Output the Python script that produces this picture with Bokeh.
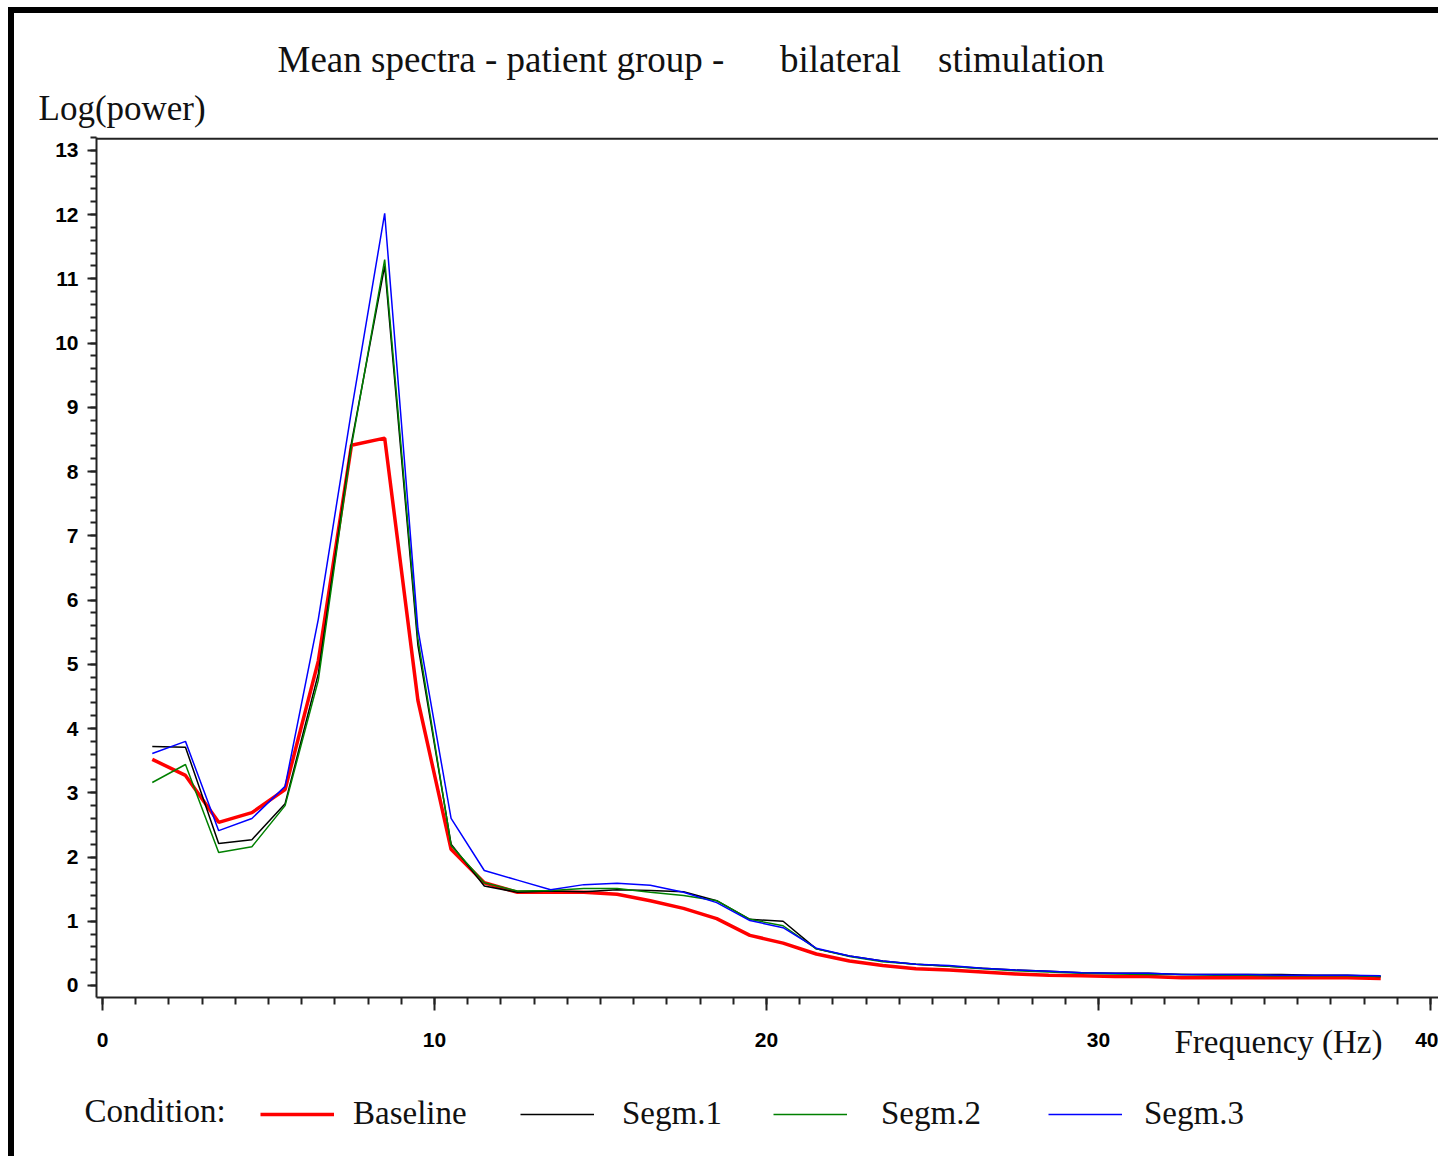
from bokeh.plotting import figure
from bokeh.models import (Range1d, SingleIntervalTicker, LinearAxis, Title, Legend,
                          LegendItem, Label, BoxAnnotation, Div, Spacer)
from bokeh.layouts import column, row
from bokeh.embed import file_html
from bokeh.resources import INLINE

# ---------------- data ----------------
freq = [1.5, 2.5, 3.5, 4.5, 5.5, 6.5, 7.5, 8.5, 9.5, 10.5, 11.5, 12.5, 13.5, 14.5, 15.5,
        16.5, 17.5, 18.5, 19.5, 20.5, 21.5, 22.5, 23.5, 24.5, 25.5, 26.5, 27.5, 28.5,
        29.5, 30.5, 31.5, 32.5, 33.5, 34.5, 35.5, 36.5, 37.5, 38.5]

baseline = [3.52, 3.27, 2.54, 2.69, 3.05, 5.05, 8.41, 8.52, 4.44, 2.12, 1.60, 1.45, 1.45,
            1.45, 1.42, 1.32, 1.20, 1.04, 0.78, 0.66, 0.49, 0.38, 0.31, 0.26, 0.24, 0.21,
            0.18, 0.16, 0.15, 0.14, 0.14, 0.12, 0.12, 0.12, 0.12, 0.12, 0.12, 0.11]

segm1 = [3.72, 3.71, 2.21, 2.27, 2.83, 4.85, 8.45, 11.20, 5.30, 2.20, 1.55, 1.45, 1.47,
         1.46, 1.49, 1.48, 1.46, 1.32, 1.03, 1.00, 0.57, 0.46, 0.38, 0.33, 0.30, 0.27,
         0.24, 0.22, 0.20, 0.19, 0.19, 0.17, 0.17, 0.17, 0.17, 0.16, 0.16, 0.14]

segm2 = [3.16, 3.44, 2.07, 2.16, 2.80, 4.75, 8.40, 11.30, 5.40, 2.18, 1.60, 1.47, 1.48,
         1.51, 1.51, 1.45, 1.40, 1.32, 1.03, 0.93, 0.57, 0.45, 0.37, 0.33, 0.30, 0.26,
         0.23, 0.21, 0.19, 0.18, 0.17, 0.17, 0.16, 0.16, 0.15, 0.15, 0.15, 0.14]

segm3 = [3.61, 3.80, 2.41, 2.60, 3.10, 5.70, 8.95, 12.02, 5.55, 2.60, 1.79, 1.64, 1.49,
         1.57, 1.59, 1.56, 1.45, 1.29, 1.01, 0.90, 0.58, 0.46, 0.38, 0.33, 0.31, 0.27,
         0.24, 0.22, 0.20, 0.19, 0.19, 0.17, 0.17, 0.17, 0.16, 0.16, 0.16, 0.15]

series_names = ["Baseline", "Segm.1", "Segm.2", "Segm.3"]
series_vals = [baseline, segm1, segm2, segm3]
series_colors = ["#ff0000", "#000000", "#008000", "#0000ff"]
series_widths = [3.5, 1.5, 1.5, 1.5]

NB = "\u00a0"
title_text = "Mean spectra - patient group -" + NB * 6 + "bilateral" + NB * 4 + "stimulation"
y_label = "Log(power)"
x_label = "Frequency (Hz)"
legend_title = "Condition:"

# ---------------- layout ----------------
OX, OY = 14, 13             # page offset after the thick border
LEG_TOP = 1075              # page y where legend strip starts
W = 1438 - OX
H = LEG_TOP - OY
HL = 1156 - LEG_TOP
FL, FT, FB = 96 - OX, 137 - OY, 997 - OY
XMIN, XMAX = -0.18, 40.24
YMIN, YMAX = -0.187, 13.2
SERIF = "Liberation Serif"
TXT = "#111111"

p = figure(width=W, height=H, x_range=Range1d(XMIN, XMAX), y_range=Range1d(YMIN, YMAX),
           output_backend="svg", toolbar_location=None,
           x_axis_type=None, y_axis_type=None,
           min_border_left=FL, min_border_top=FT, min_border_bottom=H - FB, min_border_right=0)
p.outline_line_color = None
p.background_fill_color = "white"
p.border_fill_color = "white"

xaxis = LinearAxis(ticker=SingleIntervalTicker(interval=10, num_minor_ticks=10))
yaxis = LinearAxis(ticker=SingleIntervalTicker(interval=1, num_minor_ticks=5))
for ax, tout, mout, stand in ((xaxis, 13, 7, 22), (yaxis, 9, 6, 9)):
    ax.axis_line_width = 2
    ax.axis_line_color = "#222222"
    ax.major_tick_line_width = 2
    ax.minor_tick_line_width = 2
    ax.major_tick_line_color = "#222222"
    ax.minor_tick_line_color = "#222222"
    ax.major_tick_in = 0
    ax.minor_tick_in = 0
    ax.major_tick_out = tout
    ax.minor_tick_out = mout
    ax.major_label_standoff = stand
    ax.major_label_text_font = "Liberation Sans"
    ax.major_label_text_font_style = "bold"
    ax.major_label_text_font_size = "21px"
    ax.major_label_text_color = "black"
p.add_layout(xaxis, "below")
p.add_layout(yaxis, "left")

for name, vals, col, lw in zip(series_names, series_vals, series_colors, series_widths):
    p.line(freq, vals, line_color=col, line_width=lw)

# top edge of the plot area
px_y = (YMAX - YMIN) / (FB - FT)
p.add_layout(BoxAnnotation(top=YMAX, bottom=YMAX - 2.2 * px_y, fill_color="#222222",
                           fill_alpha=1, line_color=None))

# titles above (first added is nearest the frame)
p.add_layout(Title(text=y_label, align="left", offset=38 - 96, standoff=19,
                   text_font=SERIF, text_font_size="35px", text_font_style="normal",
                   text_color=TXT), "above")
p.add_layout(Title(text=title_text, align="left", offset=277 - 96, standoff=-5,
                   text_font=SERIF, text_font_size="37px", text_font_style="normal",
                   text_color=TXT), "above")
# x label under the axis, at the right
p.add_layout(Title(text=x_label, align="right", vertical_align="top", offset=56, standoff=-51,
                   text_font=SERIF, text_font_size="33px", text_font_style="normal",
                   text_color=TXT), "below")

# ---------------- legend strip ----------------
lg = figure(width=W, height=HL, x_range=Range1d(0, 1), y_range=Range1d(0, 1),
            output_backend="svg", toolbar_location=None, x_axis_type=None, y_axis_type=None,
            min_border=0)
lg.outline_line_color = None
for fig in (p, lg):
    try:
        fig.frame_align = False
    except Exception:
        pass
lg.add_layout(Label(x=84 - OX, y=46, x_units="screen", y_units="screen",
                    text=legend_title, text_font=SERIF, text_font_size="33px",
                    text_color=TXT, text_baseline="alphabetic"))
glyph_x = [260, 520, 773, 1048]
label_gap = [19, 28, 34, 22]
for name, col, lw, gx, gap in zip(series_names, series_colors, series_widths, glyph_x, label_gap):
    r = lg.line(x=[-5, -4], y=[-5, -5], line_color=col, line_width=lw)
    lg.add_layout(Legend(items=[LegendItem(label=name, renderers=[r])],
                         orientation="horizontal", location=(gx - OX, 24),
                         glyph_width=74, glyph_height=20, label_standoff=gap,
                         padding=0, margin=0, border_line_color=None, background_fill_alpha=0,
                         label_text_font=SERIF, label_text_font_size="33px",
                         label_text_color=TXT))

top_bar = Div(width=1438 - 8, height=6, margin=0, styles={"background-color": "black"})
left_bar1 = Div(width=6, height=H, margin=0, styles={"background-color": "black"})
left_bar2 = Div(width=6, height=HL, margin=0, styles={"background-color": "black"})
layout = column(Spacer(height=7, width=1438, margin=0),
                row(Spacer(width=8, height=1156 - 7, margin=0),
                    column(top_bar,
                           row(left_bar1, p, spacing=0),
                           row(left_bar2, lg, spacing=0),
                           spacing=0),
                    spacing=0),
                spacing=0)

open("out.html", "w").write(file_html(layout, INLINE))
